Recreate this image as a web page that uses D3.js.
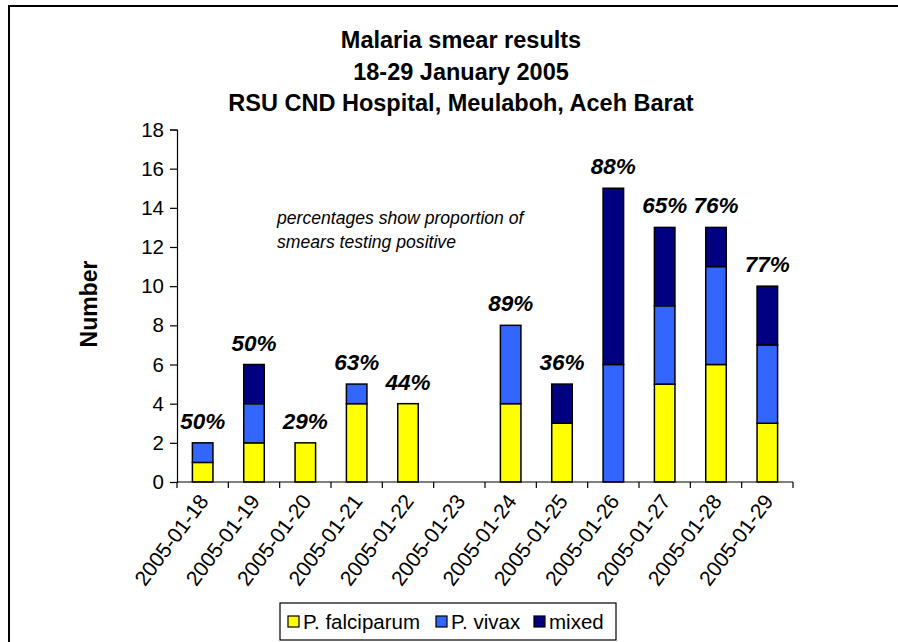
<html>
<head>
<meta charset="utf-8">
<title>Malaria smear results</title>
<style>
  body { margin: 0; background: #fff; }
  text { font-family: Arial, "Liberation Sans", sans-serif; fill: #000; }
</style>
</head>
<body>
<script src="https://cdn.jsdelivr.net/npm/d3@7/dist/d3.min.js"></script>
<script>
  var width = 898;
  var height = 642;

  // data
  var dates = ["2005-01-18", "2005-01-19", "2005-01-20", "2005-01-21", "2005-01-22", "2005-01-23",
               "2005-01-24", "2005-01-25", "2005-01-26", "2005-01-27", "2005-01-28", "2005-01-29"];
  var falciparum = [1, 2, 2, 4, 4, 0, 4, 3, 0, 5, 6, 3];
  var vivax      = [1, 2, 0, 1, 0, 0, 4, 0, 6, 4, 5, 4];
  var mixed      = [0, 2, 0, 0, 0, 0, 0, 2, 9, 4, 2, 3];
  var percents   = ["50%", "50%", "29%", "63%", "44%", "", "89%", "36%", "88%", "65%", "76%", "77%"];
  var seriesNames = ["P. falciparum", "P. vivax", "mixed"];
  var seriesColors = ["#FFFF00", "#3366FF", "#000080"];
  var yTicks = [0, 2, 4, 6, 8, 10, 12, 14, 16, 18];
  var titleLines = ["Malaria smear results", "18-29 January 2005", "RSU CND Hospital, Meulaboh, Aceh Barat"];
  var noteLines = ["percentages show proportion of", "smears testing positive"];

  var svg = d3.select("body").append("svg")
      .attr("width", width)
      .attr("height", height);

  // outer frame (runs off the right and bottom edges)
  svg.append("path")
      .attr("d", "M9,642V6H898")
      .attr("fill", "none")
      .attr("stroke", "#000")
      .attr("stroke-width", 2);

  var plot = {left: 177, right: 793, top: 129.5, bottom: 482};

  var xScale = d3.scaleBand()
      .domain(dates)
      .range([plot.left, plot.right]);
  var yScale = d3.scaleLinear()
      .domain([0, 18])
      .range([plot.bottom, plot.top]);

  // stacked table built from the arrays
  var table = dates.map(function (d, i) {
      return {date: d, falciparum: falciparum[i], vivax: vivax[i], mixed: mixed[i]};
  });
  var stack = d3.stack().keys(["falciparum", "vivax", "mixed"]);
  var layers = stack(table);

  var barW = xScale.bandwidth() * 0.4;

  svg.append("g").selectAll("g")
      .data(layers)
      .enter().append("g")
      .attr("fill", function (d, i) { return seriesColors[i]; })
      .selectAll("rect")
      .data(function (d) { return d.filter(function (s) { return s[1] - s[0] > 0; }); })
      .enter().append("rect")
      .attr("x", function (d) { return xScale(d.data.date) + (xScale.bandwidth() - barW) / 2; })
      .attr("y", function (d) { return yScale(d[1]); })
      .attr("width", barW)
      .attr("height", function (d) { return yScale(d[0]) - yScale(d[1]); })
      .attr("stroke", "#000")
      .attr("stroke-width", 1.5);

  // y axis
  var yAxis = d3.axisLeft(yScale).tickValues(yTicks).tickSize(7).tickPadding(6);
  var gy = svg.append("g")
      .attr("transform", "translate(" + plot.left + ",0)")
      .call(yAxis);
  gy.select(".domain").attr("stroke", "#000").attr("stroke-width", 1.2);
  gy.selectAll(".tick line").attr("stroke", "#000").attr("stroke-width", 1.2);
  gy.selectAll(".tick text")
      .style("font-family", "Arial, 'Liberation Sans', sans-serif")
      .style("font-size", "20.5px")
      .attr("fill", "#000");

  // x axis: line plus ticks on category boundaries
  var gx = svg.append("g");
  gx.append("line")
      .attr("x1", plot.left).attr("x2", plot.right)
      .attr("y1", plot.bottom).attr("y2", plot.bottom)
      .attr("stroke", "#000").attr("stroke-width", 1.2);
  var bounds = dates.map(function (d) { return xScale(d); }).concat([plot.right]);
  gx.selectAll(".xtick")
      .data(bounds)
      .enter().append("line")
      .attr("class", "xtick")
      .attr("x1", function (d) { return d; }).attr("x2", function (d) { return d; })
      .attr("y1", plot.bottom).attr("y2", plot.bottom + 6)
      .attr("stroke", "#000").attr("stroke-width", 1.2);
  gx.selectAll(".xlab")
      .data(dates)
      .enter().append("text")
      .attr("class", "xlab")
      .attr("text-anchor", "end")
      .attr("transform", function (d) {
          return "translate(" + (xScale(d) + xScale.bandwidth() / 2 + 1) + "," + (plot.bottom + 15) + ") rotate(-53)";
      })
      .attr("dy", "0.35em")
      .style("font-size", "21px")
      .text(function (d) { return d; });

  // percentage labels
  svg.append("g").selectAll("text")
      .data(table)
      .enter().append("text")
      .attr("x", function (d) { return xScale(d.date) + xScale.bandwidth() / 2; })
      .attr("y", function (d) { return yScale(d.falciparum + d.vivax + d.mixed) - 14; })
      .attr("text-anchor", "middle")
      .style("font-size", "22.5px")
      .style("font-weight", "bold")
      .style("font-style", "italic")
      .text(function (d, i) { return percents[i]; });

  // title
  svg.append("g").selectAll("text")
      .data(titleLines)
      .enter().append("text")
      .attr("x", 461)
      .attr("y", function (d, i) { return 48 + i * 31.5; })
      .attr("text-anchor", "middle")
      .style("font-size", "23.5px")
      .style("font-weight", "bold")
      .text(function (d) { return d; });

  // y axis title
  svg.append("text")
      .attr("transform", "translate(97,304) rotate(-90)")
      .attr("text-anchor", "middle")
      .style("font-size", "23px")
      .style("font-weight", "bold")
      .text("Number");

  // note
  svg.append("g").selectAll("text")
      .data(noteLines)
      .enter().append("text")
      .attr("x", 277)
      .attr("y", function (d, i) { return 224 + i * 24; })
      .style("font-size", "17.6px")
      .style("font-style", "italic")
      .text(function (d) { return d; });

  // legend
  var legend = svg.append("g").attr("transform", "translate(280,603)");
  legend.append("rect")
      .attr("x", 0).attr("y", 0)
      .attr("width", 336).attr("height", 37)
      .attr("fill", "#fff")
      .attr("stroke", "#000")
      .attr("stroke-width", 1.2);
  var lx = [8, 156, 254];
  var items = legend.selectAll(".item")
      .data(seriesNames)
      .enter().append("g")
      .attr("class", "item")
      .attr("transform", function (d, i) { return "translate(" + lx[i] + ",0)"; });
  items.append("rect")
      .attr("x", 0).attr("y", 13)
      .attr("width", 11).attr("height", 11)
      .attr("fill", function (d, i) { return seriesColors[i]; })
      .attr("stroke", "#000")
      .attr("stroke-width", 1.2);
  items.append("text")
      .attr("x", 15).attr("y", 26)
      .style("font-size", "20.5px")
      .text(function (d) { return d; });
</script>
</body>
</html>
